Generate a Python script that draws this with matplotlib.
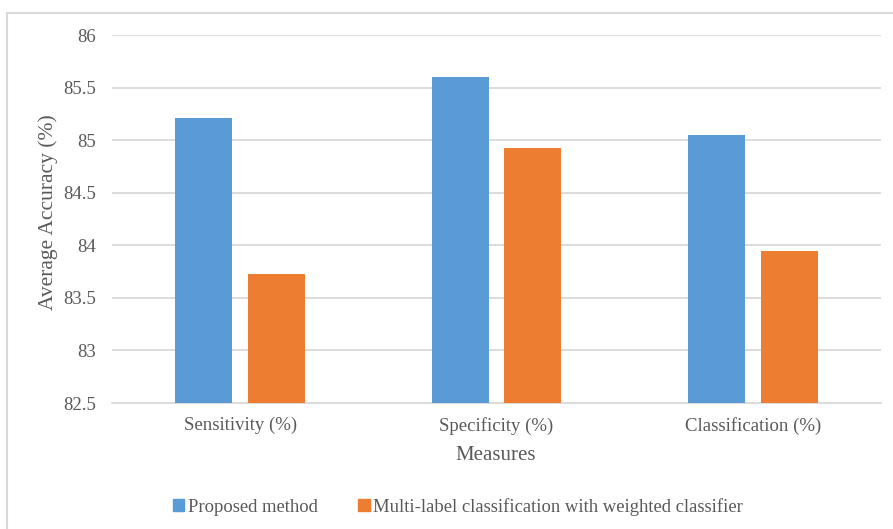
import matplotlib
matplotlib.use("Agg")
import matplotlib.pyplot as plt
from matplotlib.patches import Rectangle, Patch
import numpy as np

plt.rcParams['font.family'] = ['Liberation Serif', 'DejaVu Serif']

categories = ["Sensitivity (%)", "Specificity (%)", "Classification (%)"]
proposed = [85.21, 85.60, 85.05]
multilabel = [83.73, 84.93, 83.95]
series_names = ["Proposed method", "Multi-label classification with weighted classifier"]
yticks = [82.5, 83, 83.5, 84, 84.5, 85, 85.5, 86]

blue = "#5B9BD5"
orange = "#ED7D31"
grid_c = "#D9D9D9"
text_c = "#595959"

W, H = 893, 529
fig = plt.figure(figsize=(W / 100, H / 100), dpi=100)

# outer chart frame
fig.patches.append(Rectangle((7 / W, 1 - 13 / H - 1.2), 1.2, 1.2, transform=fig.transFigure,
                             fill=False, edgecolor=grid_c, linewidth=1.5, zorder=0))

ax = fig.add_axes([112 / W, 1 - 403 / H, (881 - 112) / W, (403 - 35) / H])
x = np.arange(len(categories))
bw = 0.222
off = 0.142
ax.bar(x - off, np.array(proposed) - 82.5, bw, bottom=82.5, color=blue, zorder=3)
ax.bar(x + off, np.array(multilabel) - 82.5, bw, bottom=82.5, color=orange, zorder=3)

ax.set_xlim(-0.5, 2.5)
ax.set_ylim(82.5, 86)
ax.set_yticks(yticks)
ax.set_yticklabels([f"{v:g}" for v in yticks])
ax.set_xticks(x)
ax.set_xticklabels(categories)
ax.yaxis.grid(True, color=grid_c, linewidth=1.3, zorder=0)
ax.set_axisbelow(True)
for s in ["top", "right", "left"]:
    ax.spines[s].set_visible(False)
ax.spines["bottom"].set_color(grid_c)
ax.spines["bottom"].set_linewidth(1.3)
ax.tick_params(axis="both", length=0, labelsize=13.5, colors=text_c)
ax.tick_params(axis="y", pad=11.5)
ax.tick_params(axis="x", pad=10)

fig.text(496 / W, 1 - 455 / H, "Measures", fontsize=15, color=text_c,
         ha="center", va="center")
fig.text(48 / W, 1 - 212 / H, "Average Accuracy (%)", fontsize=15.5, color=text_c,
         ha="center", va="center", rotation=90)

handles = [Patch(color=blue), Patch(color=orange)]
fig.legend(handles, series_names, loc="center", bbox_to_anchor=(458 / W, 1 - 507 / H),
           ncol=2, frameon=False, fontsize=13.4, labelcolor=text_c,
           handlelength=0.6, handleheight=0.6, handletextpad=0.2, columnspacing=2.2)

fig.savefig("out.png", dpi=100, facecolor="white")
